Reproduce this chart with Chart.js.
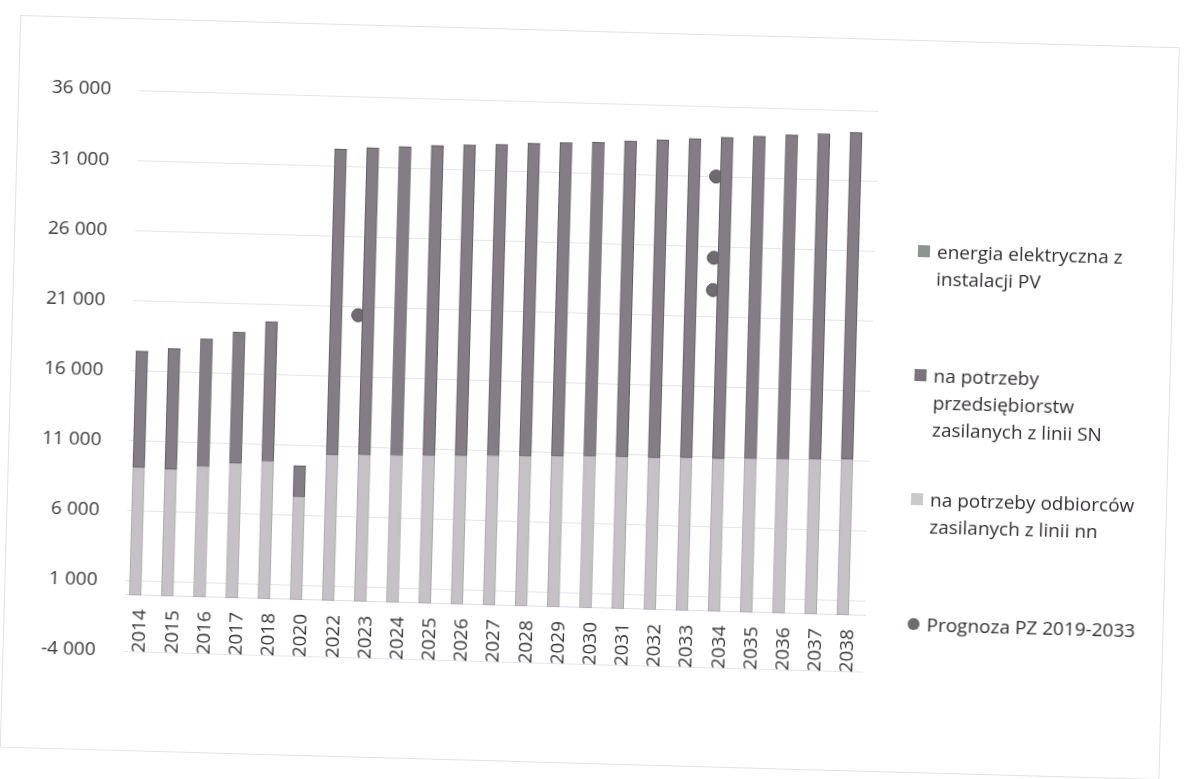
<!DOCTYPE html>
<html>
<head>
<meta charset="utf-8">
<script src="https://cdn.jsdelivr.net/npm/chart.js@4/dist/chart.umd.min.js"></script>
<style>
  html, body { margin: 0; padding: 0; background: #ffffff; overflow: hidden; }
  #wrap { position: absolute; left: 0; top: 0; width: 1185px; height: 779px;
          transform: rotate(1.6deg); transform-origin: 592px 390px; }
  #frame { position: absolute; left: 10px; top: 31px; width: 1160px; height: 733px;
           border: 1px solid #e2e2e2; box-sizing: border-box; }
  canvas { position: absolute; left: 0; top: 0; }
  .leg { position: absolute; left: 933px; font-family: "Open Sans", sans-serif;
         font-size: 19px; line-height: 27px; color: #343035; white-space: nowrap; }
  .sq { position: absolute; left: -19px; top: 7px; width: 12px; height: 12px; }
  .dot { position: absolute; left: -19px; top: 7px; width: 12px; height: 12px; border-radius: 50%; }
</style>
</head>
<body>
<div id="wrap">
  <div id="frame"></div>
  <canvas id="c" width="1185" height="779"></canvas>
  <div class="leg" style="top:229px"><span class="sq" style="background:#8c958b"></span>energia elektryczna z<br>instalacji PV</div>
  <div class="leg" style="top:353px"><span class="sq" style="background:#7b747c"></span>na potrzeby<br>przedsiębiorstw<br>zasilanych z linii SN</div>
  <div class="leg" style="top:477px"><span class="sq" style="background:#c9cbc9"></span>na potrzeby odbiorców<br>zasilanych z linii nn</div>
  <div class="leg" style="top:602px"><span class="dot" style="background:#6f6b70"></span>Prognoza PZ 2019-2033</div>
</div>
<script>
const categories = ['2014','2015','2016','2017','2018','2020','2022','2023','2024','2025','2026','2027','2028','2029','2030','2031','2032','2033','2034','2035','2036','2037','2038'];
const nnValues = [9100, 9050, 9300, 9600, 9800, 7350, 10400, 10450, 10500, 10550, 10600, 10650, 10700, 10750, 10800, 10850, 10850, 10900, 10900, 10950, 11000, 11050, 11100];
const snValues = [8300, 8600, 9100, 9350, 9950, 2200, 21800, 21900, 22000, 22100, 22150, 22200, 22300, 22350, 22400, 22500, 22650, 22750, 22900, 23000, 23100, 23200, 23300];
const pvValues = [0, 0, 0, 0, 0, 0, 0, 0, 0, 0, 0, 0, 0, 0, 0, 0, 0, 0, 0, 0, 0, 0, 0];
const prognozaAfter = ['2022', '2033', '2033', '2033'];
const prognozaValues = [20400, 31000, 25200, 22900];
const yTicks = [-4000, 1000, 6000, 11000, 16000, 21000, 26000, 31000, 36000];

const fmt = v => String(v).replace(/\B(?=(\d{3})+(?!\d))/g, ' ');
const prognozaPoints = prognozaAfter.map((c, i) => ({ x: categories.indexOf(c) + 0.5, y: prognozaValues[i] }));

new Chart(document.getElementById('c'), {
  type: 'bar',
  data: {
    labels: categories,
    datasets: [
      { label: 'na potrzeby odbiorców zasilanych z linii nn', data: nnValues,
        backgroundColor: '#c6c1c7', borderColor: '#aca7ad', borderWidth: 1, borderSkipped: false,
        barThickness: 12 },
      { label: 'na potrzeby przedsiębiorstw zasilanych z linii SN', data: snValues,
        backgroundColor: '#857d86', borderColor: '#645c65', borderWidth: 1, borderSkipped: false,
        barThickness: 12 },
      { label: 'energia elektryczna z instalacji PV', data: pvValues,
        backgroundColor: '#8c958b', borderWidth: 0,
        barThickness: 12 },
      { type: 'scatter', label: 'Prognoza PZ 2019-2033', data: prognozaPoints, xAxisID: 'xs',
        backgroundColor: '#6f6b70', borderColor: '#555157', borderWidth: 1, pointRadius: 6.5 }
    ]
  },
  options: {
    responsive: false,
    animation: false,
    layout: { padding: { left: 0, top: 103, right: 314, bottom: 115 } },
    plugins: { legend: { display: false }, tooltip: { enabled: false } },
    scales: {
      x: {
        stacked: true,
        offset: true,
        position: { y: 0 },
        afterFit: s => { s.height = 0; },
        grid: { display: false, drawTicks: false },
        border: { display: true, color: '#e0dce6', width: 1 },
        ticks: { minRotation: 90, maxRotation: 90, padding: 14, color: '#3a383b', autoSkip: false,
                 font: { family: 'Open Sans', size: 19 } }
      },
      xs: { type: 'linear', display: false, offset: false,
            min: -0.5, max: categories.length - 0.5, grid: { offset: false } },
      y: {
        stacked: true,
        min: yTicks[0], max: yTicks[yTicks.length - 1],
        afterFit: s => { s.width = 131; },
        afterBuildTicks: s => { s.ticks = yTicks.map(v => ({ value: v })); },
        grid: { color: '#e6e3ea', lineWidth: 1, drawTicks: false },
        border: { display: false },
        ticks: { padding: 28, color: '#3a383b', font: { family: 'Open Sans', size: 19 }, callback: v => fmt(v) }
      }
    }
  }
});
</script>
</body>
</html>
